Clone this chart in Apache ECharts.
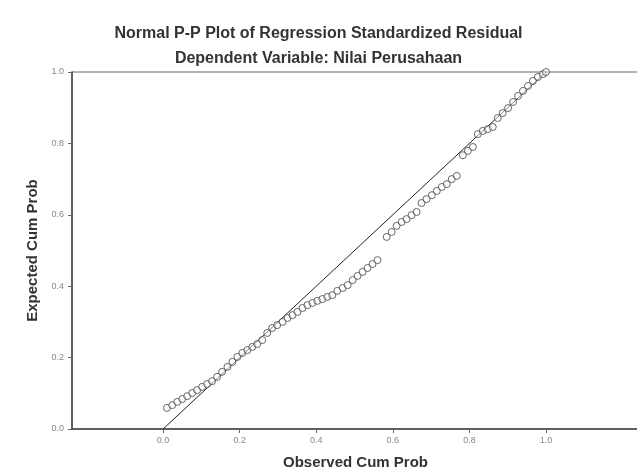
<!DOCTYPE html>
<html>
<head>
<meta charset="utf-8">
<script src="https://cdn.jsdelivr.net/npm/echarts@6/dist/echarts.min.js"></script>
<style>
html,body{margin:0;padding:0;background:#fff;}
#c{width:637px;height:470px;}
</style>
</head>
<body>
<div id="c"></div>
<script>
const titleText = "Normal P-P Plot of Regression Standardized Residual";
const subtitleText = "Dependent Variable: Nilai Perusahaan";
const xAxisName = "Observed Cum Prob";
const yAxisName = "Expected Cum Prob";
const tickValues = [0, 0.2, 0.4, 0.6, 0.8, 1.0];
const observedCumProb = [0.010,0.024,0.037,0.050,0.063,0.076,0.089,0.102,0.115,0.128,0.141,0.154,0.168,0.181,0.194,0.207,0.220,0.233,0.246,0.259,0.272,0.285,0.298,0.312,0.325,0.338,0.351,0.364,0.377,0.390,0.403,0.416,0.429,0.442,0.455,0.469,0.482,0.495,0.508,0.521,0.534,0.547,0.560,0.584,0.597,0.610,0.623,0.636,0.649,0.662,0.675,0.688,0.702,0.715,0.728,0.741,0.754,0.767,0.783,0.796,0.809,0.822,0.835,0.848,0.861,0.874,0.887,0.901,0.914,0.927,0.940,0.953,0.966,0.979,0.992,1.000];
const expectedCumProb = [0.059,0.067,0.076,0.084,0.092,0.101,0.109,0.118,0.126,0.134,0.146,0.160,0.174,0.188,0.202,0.213,0.221,0.230,0.238,0.249,0.269,0.283,0.291,0.300,0.311,0.319,0.328,0.339,0.347,0.353,0.359,0.364,0.370,0.375,0.387,0.395,0.403,0.417,0.429,0.440,0.451,0.462,0.473,0.538,0.552,0.569,0.580,0.588,0.599,0.608,0.633,0.644,0.655,0.667,0.678,0.686,0.700,0.709,0.767,0.779,0.790,0.826,0.835,0.840,0.846,0.871,0.885,0.899,0.916,0.933,0.947,0.961,0.975,0.986,0.994,1.000];
const refLineX = [0, 1];
const refLineY = [0, 1];

const points = observedCumProb.map((x, i) => [x, expectedCumProb[i]]);
const refLine = refLineX.map((x, i) => [x, refLineY[i]]);

const chart = echarts.init(document.getElementById('c'), null, {renderer: 'canvas'});
const fontFam = '"Liberation Sans", Arial, sans-serif';
chart.setOption({
  backgroundColor: '#fff',
  animation: false,
  title: [
    {text: titleText, left: 'center', top: 21, textStyle: {fontFamily: fontFam, fontSize: 16, fontWeight: 'bold', color: '#333'}},
    {text: subtitleText, left: 'center', top: 46, textStyle: {fontFamily: fontFam, fontSize: 16, fontWeight: 'bold', color: '#333'}}
  ],
  grid: {left: 72, right: -2, top: 72, bottom: 41, outerBoundsMode: 'none', containLabel: false, show: true, borderColor: '#666', borderWidth: 1, backgroundColor: 'transparent'},
  xAxis: {
    type: 'value', min: -0.238, max: 1.243,
    name: xAxisName, nameLocation: 'middle', nameGap: 26,
    nameTextStyle: {fontFamily: fontFam, fontSize: 15, fontWeight: 'bold', color: '#333'},
    axisLine: {show: true, onZero: false, lineStyle: {color: '#444', width: 1.5}},
    axisTick: {show: true, customValues: tickValues, length: 4, lineStyle: {color: '#666'}},
    axisLabel: {customValues: tickValues, fontFamily: fontFam, fontSize: 9, color: '#888', margin: 7, formatter: v => v.toFixed(1)},
    splitLine: {show: false}
  },
  yAxis: {
    type: 'value', min: 0, max: 1, interval: 0.2,
    name: yAxisName, nameLocation: 'middle', nameGap: 32,
    nameTextStyle: {fontFamily: fontFam, fontSize: 15, fontWeight: 'bold', color: '#333'},
    axisLine: {show: true, onZero: false, lineStyle: {color: '#444', width: 1.5}},
    axisTick: {show: true, length: 4, lineStyle: {color: '#666'}},
    axisLabel: {fontFamily: fontFam, fontSize: 9, color: '#888', margin: 8, formatter: v => v.toFixed(1)},
    splitLine: {show: false}
  },
  series: [
    {type: 'line', data: refLine, symbol: 'none', lineStyle: {color: '#222', width: 1}, z: 2},
    {type: 'scatter', data: points, symbol: 'circle', symbolSize: 7,
     itemStyle: {color: 'rgba(255,255,255,0.6)', borderColor: '#444', borderWidth: 1}, z: 3}
  ]
});
</script>
</body>
</html>
